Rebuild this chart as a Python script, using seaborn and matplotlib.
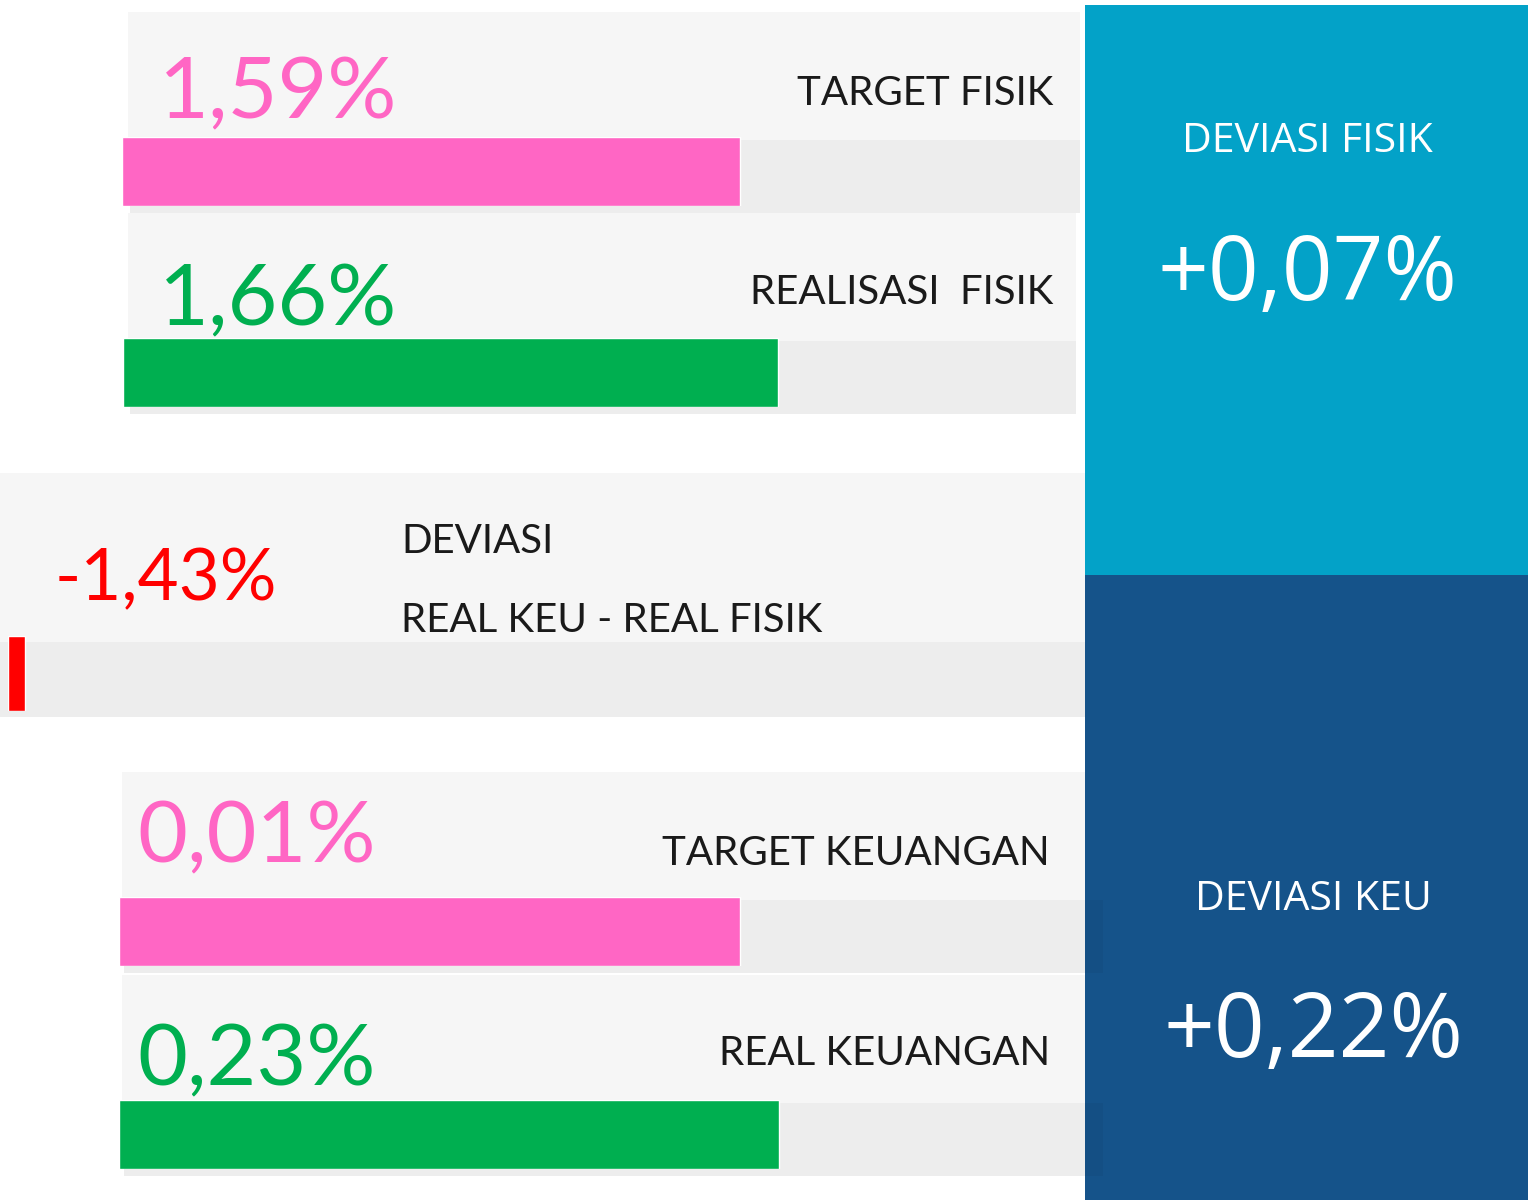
import matplotlib
matplotlib.use('Agg')
import matplotlib.pyplot as plt
from matplotlib.patches import Rectangle
import seaborn as sns

# data
labels = ['TARGET FISIK', 'REALISASI  FISIK', 'TARGET KEUANGAN', 'REAL KEUANGAN']
values = [1.59, 1.66, 0.01, 0.23]
bar_fill = [64.6, 68.5, 65.0, 69.0]   # bar length, % of track (as drawn)
bar_colors = ['#FF66C4', '#00AF50', '#FF66C4', '#00AF50']

deviasi_label = ['DEVIASI', 'REAL KEU - REAL FISIK']
deviasi_value = -1.43
deviasi_fill = 1.6

side_titles = ['DEVIASI FISIK', 'DEVIASI KEU']
side_values = [0.07, 0.22]
side_colors = ['#03A2C8', '#15538A']

W, H = 1536, 1200
CARD = '#F6F6F6'
TRACK = '#EDEDED'

sns.set_style('white')
plt.rcParams['font.family'] = ['Lato', 'DejaVu Sans']


def pct(v, sign=False):
    s = f'{v:+.2f}' if sign else f'{v:.2f}'
    return s.replace('.', ',') + '%'


def fig_box(x0, y0, x1, y1):
    return [x0 / W, 1 - y1 / H, (x1 - x0) / W, (y1 - y0) / H]


fig = plt.figure(figsize=(W / 100, H / 100), dpi=100)
ax = fig.add_axes([0, 0, 1, 1])
ax.set_xlim(0, W)
ax.set_ylim(H, 0)
ax.axis('off')

# cards on the left
card_top = [12, 213, 772, 975]
card_x = [(128, 1080), (128, 1076), (122, 1085), (122, 1085)]
val_x = [159, 159, 137, 137]
val_base = [118, 325, 862, 1085]
lab_x = [1053, 1053, 1050, 1050]
lab_base = [105, 304, 865, 1065]
bar_x0 = [122, 123, 119, 119]

for i in range(4):
    t = card_top[i]
    x0, x1 = card_x[i]
    ax.add_patch(Rectangle((x0, t), x1 - x0, 128, color=CARD, lw=0))
    ax.add_patch(Rectangle((x0 + 2, t + 128), x1 - x0 - 2, 73, color=TRACK, lw=0))
    ax.text(val_x[i], val_base[i], pct(values[i]), color=bar_colors[i],
            fontsize=62, va='baseline', ha='left')
    ax.text(lab_x[i], lab_base[i], labels[i], color='#1a1a1a',
            fontsize=29, va='baseline', ha='right')

    bax = fig.add_axes(fig_box(bar_x0[i], t + 125, bar_x0[i] + 956, t + 194))
    sns.barplot(x=[bar_fill[i]], y=[labels[i]], orient='h', width=1,
                color=bar_colors[i], saturation=1, ax=bax)
    bax.set_xlim(0, 100)
    bax.set_ylim(0.5, -0.5)
    bax.axis('off')
    bax.patch.set_alpha(0)

# deviasi card
ax.add_patch(Rectangle((0, 473), 1085, 169, color=CARD, lw=0))
ax.add_patch(Rectangle((0, 642), 1085, 75, color=TRACK, lw=0))
ax.text(55, 600, pct(deviasi_value), color='#FF0000', fontsize=51,
        va='baseline', ha='left')
ax.text(401, 553, deviasi_label[0], color='#1a1a1a', fontsize=29, va='baseline')
ax.text(401, 632, deviasi_label[1], color='#1a1a1a', fontsize=29, va='baseline')
dax = fig.add_axes(fig_box(8, 636, 1085, 711))
sns.barplot(x=[deviasi_fill], y=['DEVIASI'], orient='h', width=1,
            color='#FF0000', saturation=1, ax=dax)
dax.set_xlim(0, 100)
dax.set_ylim(0.5, -0.5)
dax.axis('off')
dax.patch.set_alpha(0)

# right side boxes
ax.add_patch(Rectangle((1085, 5), 443, 570, color=side_colors[0], lw=0))
ax.add_patch(Rectangle((1085, 575), 443, 625, color=side_colors[1], lw=0))
# track shadow falling on the dark box
for t in card_top[2:]:
    ax.add_patch(Rectangle((1085, t + 128), 18, 73, color='black', alpha=0.04, lw=0))

side_cx = [1307, 1313]
title_base = [152, 910]
num_base = [300, 1057]
for i in range(2):
    ax.text(side_cx[i], title_base[i], side_titles[i], color='white', fontsize=29.5,
            ha='center', va='baseline', family=['Open Sans', 'DejaVu Sans'])
    ax.text(side_cx[i], num_base[i], pct(side_values[i], sign=True), color='white',
            fontsize=64, ha='center', va='baseline', family=['Open Sans', 'DejaVu Sans'])

fig.savefig('out.png', dpi=100)
